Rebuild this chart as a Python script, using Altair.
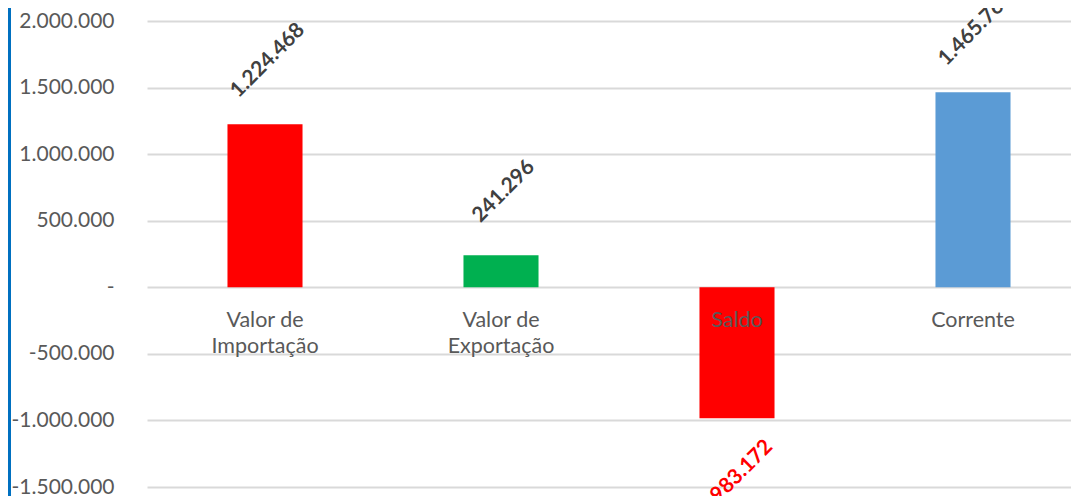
import altair as alt
import pandas as pd

categorias = ["Valor de Importação", "Valor de Exportação", "Saldo", "Corrente"]
rotulos = ["Valor de\nImportação", "Valor de\nExportação", "Saldo", "Corrente"]
valores = [1224468, 241296, -983172, 1465764]
cores = ["#FF0000", "#00B050", "#FF0000", "#5B9BD5"]
ticks_y = [-1500000, -1000000, -500000, 0, 500000, 1000000, 1500000, 2000000]

df = pd.DataFrame({"categoria": categorias, "rotulo": rotulos, "valor": valores})

FONT = "Lato"
fmt_expr = "(datum.valor < 0 ? '-' : '') + replace(format(abs(datum.valor), ','), regexp(',', 'g'), '.')"
axis_expr = ("datum.value == 0 ? '-\u00a0\u00a0' : (datum.value < 0 ? '-' : '') + "
             "replace(format(abs(datum.value), ','), regexp(',', 'g'), '.')")

xenc = alt.X("categoria:N", sort=categorias, axis=None,
             scale=alt.Scale(range=[0, 944], paddingInner=0.682, paddingOuter=0.341))

yscale = alt.Scale(domain=[-1500000, 2000000], nice=False, zero=False)

base = alt.Chart(df)

bars = base.mark_bar().encode(
    x=xenc,
    y=alt.Y("valor:Q", scale=yscale,
            axis=alt.Axis(values=ticks_y, title=None, ticks=False, domain=False,
                          labelPadding=33, labelFont=FONT, labelFontSize=21,
                          labelColor="#595959", labelExpr=axis_expr,
                          gridColor="#D9D9D9", gridWidth=2, minExtent=139, maxExtent=139)),
    color=alt.Color("categoria:N", scale=alt.Scale(domain=categorias, range=cores), legend=None),
)

cat_labels = base.mark_text(
    font=FONT, fontSize=21.5, color="#595959", baseline="alphabetic",
    align="center", lineBreak="\n", lineHeight=26, dy=40,
).encode(
    x=xenc,
    y=alt.datum(0),
    text="rotulo:N",
)

pos_labels = base.transform_filter("datum.valor >= 0").transform_calculate(
    txt=fmt_expr
).mark_text(
    font=FONT, fontSize=21, fontWeight="bold", color="#404040",
    align="center", baseline="middle", angle=315, dx=47, dy=-43,
).encode(x=xenc, y=alt.Y("valor:Q"), text="txt:N")

neg_labels = base.transform_filter("datum.valor < 0").transform_calculate(
    txt=fmt_expr
).mark_text(
    font=FONT, fontSize=21, fontWeight="bold", color="#FF0000",
    align="center", baseline="middle", angle=315, dx=-38, dy=41,
).encode(x=xenc, y=alt.Y("valor:Q"), text="txt:N")

frame = alt.Chart(pd.DataFrame({"a": [0]})).mark_rule(
    color="#0070C0", strokeWidth=3
).encode(x=alt.value(-137.5), y=alt.value(-13), y2=alt.value(480))

chart = alt.layer(bars, cat_labels, pos_labels, neg_labels, frame).properties(
    width=924, height=466,
    autosize=alt.AutoSizeParams(type="none"),
    padding={"left": 139, "top": 13, "right": 0, "bottom": 9},
).configure_view(stroke=None)

chart.save("out.html", embed_options={"renderer": "svg", "actions": False})
